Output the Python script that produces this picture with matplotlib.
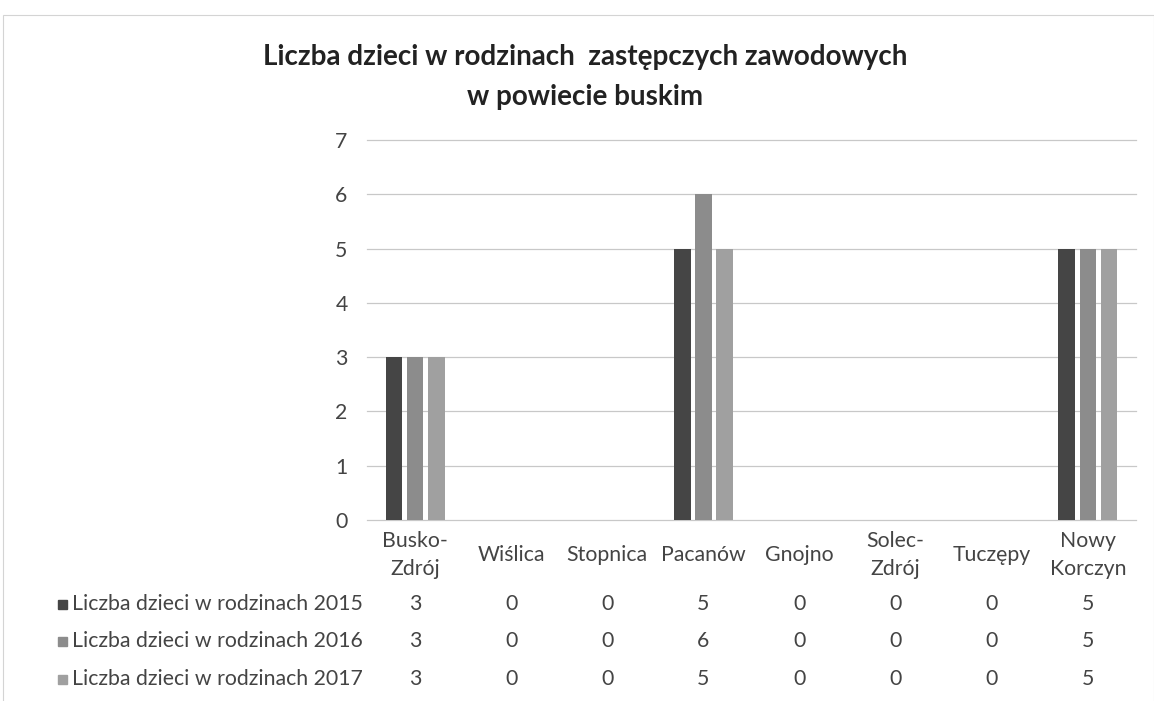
import numpy as np
import matplotlib
matplotlib.use('Agg')
import matplotlib.pyplot as plt
import matplotlib.transforms as mtransforms
from matplotlib.patches import Rectangle

# --- data ---
categories = ['Busko-\nZdrój', 'Wiślica', 'Stopnica', 'Pacanów', 'Gnojno',
              'Solec-\nZdrój', 'Tuczępy', 'Nowy\nKorczyn']
series_names = ['Liczba dzieci w rodzinach 2015',
                'Liczba dzieci w rodzinach 2016',
                'Liczba dzieci w rodzinach 2017']
values_2015 = [3, 0, 0, 5, 0, 0, 0, 5]
values_2016 = [3, 0, 0, 6, 0, 0, 0, 5]
values_2017 = [3, 0, 0, 5, 0, 0, 0, 5]
series_values = [values_2015, values_2016, values_2017]
colors = ['#454545', '#8c8c8c', '#a0a0a0']

plt.rcParams['font.family'] = ['Lato', 'DejaVu Sans']

W, H = 1154, 701
fig = plt.figure(figsize=(W / 100, H / 100), dpi=100)
fig.patch.set_facecolor('white')

# light frame around the chart area (scanned page)
fig.add_artist(Rectangle((3 / W, -0.01), (W - 3) / W, (H - 15) / H + 0.01,
                         transform=fig.transFigure, fill=False,
                         edgecolor='#d4d4d4', lw=0.8))

ax = fig.add_axes([367 / W, (H - 520) / H, (1136 - 367) / W, (520 - 140) / H])

x = np.arange(len(categories))
bw = 0.175
step = 0.22
for i, (vals, c) in enumerate(zip(series_values, colors)):
    ax.bar(x + (i - 1) * step, vals, width=bw, color=c, zorder=3)

fs = 15.3
txt = '#444444'

ax.set_xlim(-0.5, len(categories) - 0.5)
ax.set_ylim(0, 7)
ax.set_yticks(range(0, 8))
ax.yaxis.grid(True, color='#c8c8c8', lw=0.9, zorder=0)
for gl in ax.get_ygridlines():
    gl.set_clip_on(False)
ax.tick_params(axis='y', length=0, pad=14, labelsize=fs, labelcolor=txt)
ax.set_xticks([])
for s in ax.spines.values():
    s.set_visible(False)

# category labels and data table
tr = mtransforms.blended_transform_factory(ax.transData, fig.transFigure)
for xi, cat in zip(x, categories):
    ax.text(xi, 1 - 555 / H, cat, transform=tr, ha='center', va='center',
            fontsize=fs, color=txt, linespacing=1.5)

row_y = [604, 641, 679]
for ry, name, vals, c in zip(row_y, series_names, series_values, colors):
    yf = 1 - ry / H
    fig.add_artist(Rectangle((58 / W, yf - 4.5 / H), 9 / W, 9 / H,
                             transform=fig.transFigure, color=c))
    fig.text(72 / W, yf, name, ha='left', va='center', fontsize=fs, color=txt)
    for xi, v in zip(x, vals):
        ax.text(xi, yf, str(v), transform=tr, ha='center', va='center',
                fontsize=fs, color=txt)

fig.text(585 / W, 1 - 57 / H, 'Liczba dzieci w rodzinach  zastępczych zawodowych',
         ha='center', va='center', fontsize=20, fontweight='bold', color='#222222')
fig.text(585 / W, 1 - 97 / H, 'w powiecie buskim',
         ha='center', va='center', fontsize=20, fontweight='bold', color='#222222')

fig.savefig('out.png', dpi=100)
